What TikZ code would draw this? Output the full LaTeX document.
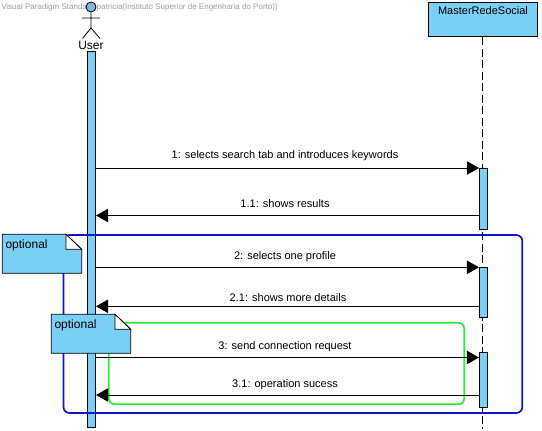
\documentclass[tikz,border=0pt]{standalone}
\usepackage{fontspec}
\setmainfont{Liberation Sans}
\usepackage{xcolor}
\usetikzlibrary{calc}
\usetikzlibrary{arrows.meta}
\definecolor{barblue}{RGB}{122,207,245}
\definecolor{framegreen}{RGB}{50,230,60}
\definecolor{frameblue}{RGB}{20,20,205}
\tikzset{
    bar/.style={draw=black, fill=barblue, line width=0.6pt, inner sep=0pt, minimum width=6.2pt},
    msg/.style={line width=0.75pt, -{Triangle[length=9pt,width=10pt]}, shorten >=0pt},
    lbl/.style={font=\fontsize{8.25pt}{10pt}\selectfont, inner sep=0pt, anchor=base},
    txt/.style={font=\fontsize{9pt}{11pt}\selectfont, inner sep=0pt},
    frm/.style={line width=1.3pt, rounded corners=4.5pt}
}
\begin{document}
\begin{tikzpicture}[x=0.75pt,y=-0.75pt]
        \useasboundingbox (0,0) rectangle (542,431);

        %WATERMARK
        \node[font=\fontsize{6pt}{8pt}\selectfont, text=gray!75, inner sep=0pt, anchor=west] (mark) at (1,7)
            {Visual Paradigm Standard(patricia(Instituto Superior de Engenharia do Porto))};

        %USER
        \node[circle, draw=black, fill=barblue!75!gray, inner sep=0pt, minimum size=7.5pt, line width=0.6pt] (head) at (91,7) {};
        \coordinate (hip) at (91,28);
        \coordinate (armL) at (82,18);
        \coordinate (armR) at (100,18);
        \coordinate (footL) at (82.5,38.5);
        \coordinate (footR) at (100,38.5);
        \draw[line width=0.6pt] (head.south) -- (hip) (armL) -- (armR) (footL) -- (hip) -- (footR);
        \node[txt] (user) at (91,45) {User};

        %MASTER
        \node[draw=black, fill=barblue, line width=0.75pt, minimum width=82pt, minimum height=25.7pt, inner sep=0pt] (master) at (483,19.8) {};
        \node[lbl, anchor=center] (mastertxt) at (483,10.3) {MasterRedeSocial};
        \coordinate (lifeend) at (482.3,429);
        \draw[line width=0.75pt, dash pattern=on 6pt off 2.6pt] (master.south -| lifeend) -- (lifeend);

        %LIFELINE USER
        \node[bar, minimum height=281.5pt] (userbar) at (91.5,239.5) {};

        %ACTIVATIONS
        \node[bar, minimum height=45.7pt] (actA) at (483.5,198.8) {};
        \node[bar, minimum height=37.5pt] (actB) at (483.5,292.3) {};
        \node[bar, minimum height=41.2pt] (actC) at (483.5,379.8) {};

        %FRAMES
        \draw[frm, draw=frameblue] (63.5,235) rectangle (522.3,413);
        \draw[frm, draw=framegreen] (108.7,322.7) rectangle (464.3,404.3);

        %PESAN
        \coordinate (m1) at (0,168);
        \coordinate (m2) at (0,215.5);
        \coordinate (m3) at (0,267.3);
        \coordinate (m4) at (0,306.3);
        \coordinate (m5) at (0,357.5);
        \coordinate (m6) at (0,395);
        \draw[msg] (userbar.east |- m1) -- (actA.west |- m1);
        \draw[msg] (actA.west |- m2) -- (userbar.east |- m2);
        \draw[msg] (userbar.east |- m3) -- (actB.west |- m3);
        \draw[msg] (actB.west |- m4) -- (userbar.east |- m4);
        \draw[msg] (userbar.east |- m5) -- (actC.west |- m5);
        \draw[msg] (actC.west |- m6) -- (userbar.east |- m6);
        \node[lbl] (t1) at (285,159) {1: selects search tab and introduces keywords};
        \node[lbl] (t2) at (285,207) {1.1: shows results};
        \node[lbl] (t3) at (285,259) {2: selects one profile};
        \node[lbl] (t4) at (288,301) {2.1: shows more details};
        \node[lbl] (t5) at (285,349) {3: send connection request};
        \node[lbl] (t6) at (285,387) {3.1: operation sucess};

        %NOTES
        \foreach \x/\y/\n in {2.3/234.3/noteA, 51.3/314.3/noteB}{
            \draw[fill=barblue, line width=0.6pt] (\x,\y) -- ++(63.7,0) -- ++(15.7,15) -- ++(0,24) -- ++(-79.4,0) -- cycle;
            \draw[fill=white, line width=0.6pt] (\x+63.7,\y) -- ++(0,15) -- ++(15.7,0) -- cycle;
            \node[txt, anchor=west] (\n) at (\x+3,\y+11.5) {optional};
        }
    \end{tikzpicture}
\end{document}
